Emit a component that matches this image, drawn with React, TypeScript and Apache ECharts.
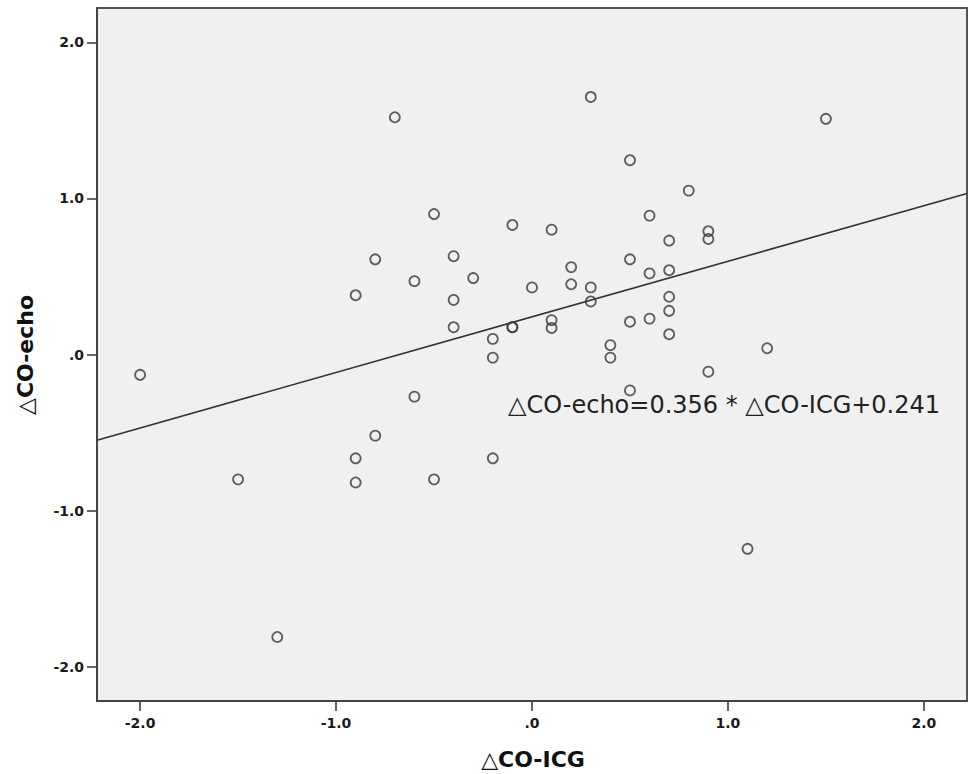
import React, { useEffect, useRef } from "react";
import * as echarts from "echarts";

const icgDelta = [
  -2.0, -1.5, -1.3, -0.9, -0.9, -0.9, -0.8, -0.8, -0.7, -0.6, -0.6, -0.5, -0.5,
  -0.4, -0.4, -0.4, -0.3, -0.2, -0.2, -0.2, -0.1, -0.1, -0.1, 0.0, 0.1, 0.1, 0.1,
  0.2, 0.2, 0.3, 0.3, 0.3, 0.4, 0.4, 0.5, 0.5, 0.5, 0.5, 0.6, 0.6, 0.6, 0.7, 0.7,
  0.7, 0.7, 0.7, 0.8, 0.9, 0.9, 0.9, 1.1, 1.2, 1.5,
];
const echoDelta = [
  -0.13, -0.8, -1.81, 0.38, -0.665, -0.82, 0.61, -0.52, 1.52, 0.47, -0.27, 0.9, -0.8,
  0.63, 0.35, 0.175, 0.49, 0.1, -0.02, -0.665, 0.83, 0.175, 0.175, 0.43, 0.8, 0.22, 0.17,
  0.56, 0.45, 1.65, 0.43, 0.34, 0.06, -0.02, 1.245, 0.61, 0.21, -0.23, 0.89, 0.52, 0.23, 0.73, 0.54,
  0.37, 0.28, 0.13, 1.05, 0.79, 0.74, -0.11, -1.245, 0.04, 1.51,
];
const tickValues = [-2, -1, 0, 1, 2];
const axisMin = -2.22;
const axisMax = 2.22;
const slope = 0.356;
const intercept = 0.241;
const equationText = "△CO-echo=0.356 * △CO-ICG+0.241";
const xTitle = "△CO-ICG";
const yTitle = "△CO-echo";

const fmt = (v: number) => (v === 0 ? ".0" : v.toFixed(1));

export default function App() {
  const ref = useRef<HTMLDivElement>(null);
  useEffect(() => {
    const chart = echarts.init(ref.current!, null, { renderer: "svg" });
    const points = icgDelta.map((x, i) => [x, echoDelta[i]]);
    const fitLine = [
      [axisMin, slope * axisMin + intercept],
      [axisMax, slope * axisMax + intercept],
    ];
    const font = "DejaVu Sans";
    const labelStyle = {
      customValues: tickValues,
      formatter: fmt,
      fontSize: 14,
      fontWeight: "bold",
      color: "#1a1a1a",
      fontFamily: font,
    };
    const axisCommon = {
      type: "value",
      min: axisMin,
      max: axisMax,
      splitLine: { show: false },
      axisLine: { show: true, onZero: false, lineStyle: { color: "#444", width: 2 } },
      axisTick: {
        show: true,
        length: 10,
        inside: false,
        customValues: tickValues,
        lineStyle: { color: "#333", width: 1.5 },
      },
    };
    chart.setOption({
      animation: false,
      backgroundColor: "#ffffff",
      grid: {
        left: 97,
        top: 8,
        width: 870,
        height: 693,
        show: true,
        backgroundColor: "#f0f0f0",
        borderColor: "#555",
        borderWidth: 2,
      },
      xAxis: {
        ...axisCommon,
        axisLabel: { ...labelStyle, margin: 15 },
      },
      yAxis: {
        ...axisCommon,
        axisLabel: { ...labelStyle, margin: 13 },
      },
      series: [
        {
          type: "line",
          data: fitLine,
          symbol: "none",
          lineStyle: { color: "#333", width: 1.6 },
          silent: true,
          z: 2,
        },
        {
          type: "scatter",
          data: points,
          symbol: "circle",
          symbolSize: 10,
          itemStyle: {
            color: "rgba(0,0,0,0)",
            borderColor: "#3a3a3a",
            borderWidth: 1.8,
          },
          z: 3,
        },
      ],
      graphic: [
        {
          type: "text",
          x: 508,
          y: 405,
          style: {
            text: equationText,
            fontSize: 24,
            fontFamily: font,
            fill: "#222",
            align: "left",
            verticalAlign: "middle",
          },
          z: 10,
        },
        {
          type: "text",
          x: 533,
          y: 759,
          style: {
            text: xTitle,
            fontSize: 22,
            fontWeight: "bold",
            fontFamily: font,
            fill: "#111",
            align: "center",
            verticalAlign: "middle",
          },
        },
        {
          type: "text",
          x: 25,
          y: 355,
          rotation: Math.PI / 2,
          style: {
            text: yTitle,
            fontSize: 22,
            fontWeight: "bold",
            fontFamily: font,
            fill: "#111",
            align: "center",
            verticalAlign: "middle",
          },
        },
      ],
    });
    return () => chart.dispose();
  }, []);
  return (
    <div
      ref={ref}
      style={{ position: "absolute", left: 0, top: 0, width: 970, height: 774, background: "#fff" }}
    />
  );
}
